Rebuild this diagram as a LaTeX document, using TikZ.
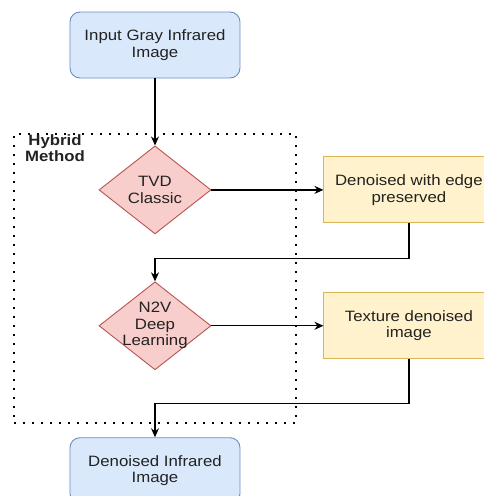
\documentclass[tikz,border=0pt]{standalone}
\usepackage{fontspec}
\setmainfont{Liberation Sans}[FakeStretch=1.12]
\usetikzlibrary{shapes.geometric,positioning,arrows.meta}

\definecolor{bluefill}{HTML}{DAE8FC}
\definecolor{blueline}{HTML}{6C8EBF}
\definecolor{redfill}{HTML}{F8CECC}
\definecolor{redline}{HTML}{B85450}
\definecolor{yellowfill}{HTML}{FFF2CC}
\definecolor{yellowline}{HTML}{D6B656}
\definecolor{textgray}{HTML}{222222}

\tikzset{
  every node/.style={font=\fontsize{15}{16.5}\selectfont, text=textgray, align=center},
  endbox/.style={draw=blueline, fill=bluefill, rounded corners=10pt, minimum width=170pt, minimum height=66pt, line width=0.9pt},
  resultbox/.style={draw=yellowline, fill=yellowfill, minimum width=170pt, minimum height=66pt, line width=0.9pt},
  stage/.style={draw=redline, fill=redfill, diamond, minimum width=112pt, minimum height=88pt, inner sep=0pt, line width=0.9pt},
  flow/.style={draw, -{Stealth[length=9pt,width=8pt]}, line width=1.2pt},
  frame/.style={draw, line width=2pt, dash pattern=on 2pt off 7pt, minimum width=282pt, minimum height=289pt}
}

\begin{document}
\begin{tikzpicture}
\useasboundingbox (-155pt,45pt) rectangle (328pt,-451pt);
\node[frame](hybrid) at (0,-233.5pt){};
\node[anchor=north, font=\fontsize{15}{16.5}\selectfont\bfseries, inner sep=0pt] (hybridlabel) at ([xshift=42pt,yshift=-1pt]hybrid.north west){Hybrid\\Method};

\node[endbox](input) at (0,0){Input Gray Infrared\\Image};
\node[stage, below = 67pt of input, label={[align=center]center:TVD\\Classic}](tvd){};
\node[stage, below = 47pt of tvd, label={[align=center]center:N2V\\Deep\\Learning}](n2v){};
\node[endbox, below = 67pt of n2v](output){Denoised Infrared\\Image};
%results
\node[resultbox, right = 112pt of tvd](edge){Denoised with edge\\preserved};
\node[resultbox, right = 112pt of n2v](texture){Texture denoised\\image};
%path
\path[flow](input)--(tvd);
\path[flow](tvd)--(edge);
\path[flow](edge.south)--++(0,-35pt)-|(n2v.north);
\path[flow](n2v)--(texture);
\path[flow](texture.south)--++(0,-44pt)-|(output.north);
\end{tikzpicture}
\end{document}
